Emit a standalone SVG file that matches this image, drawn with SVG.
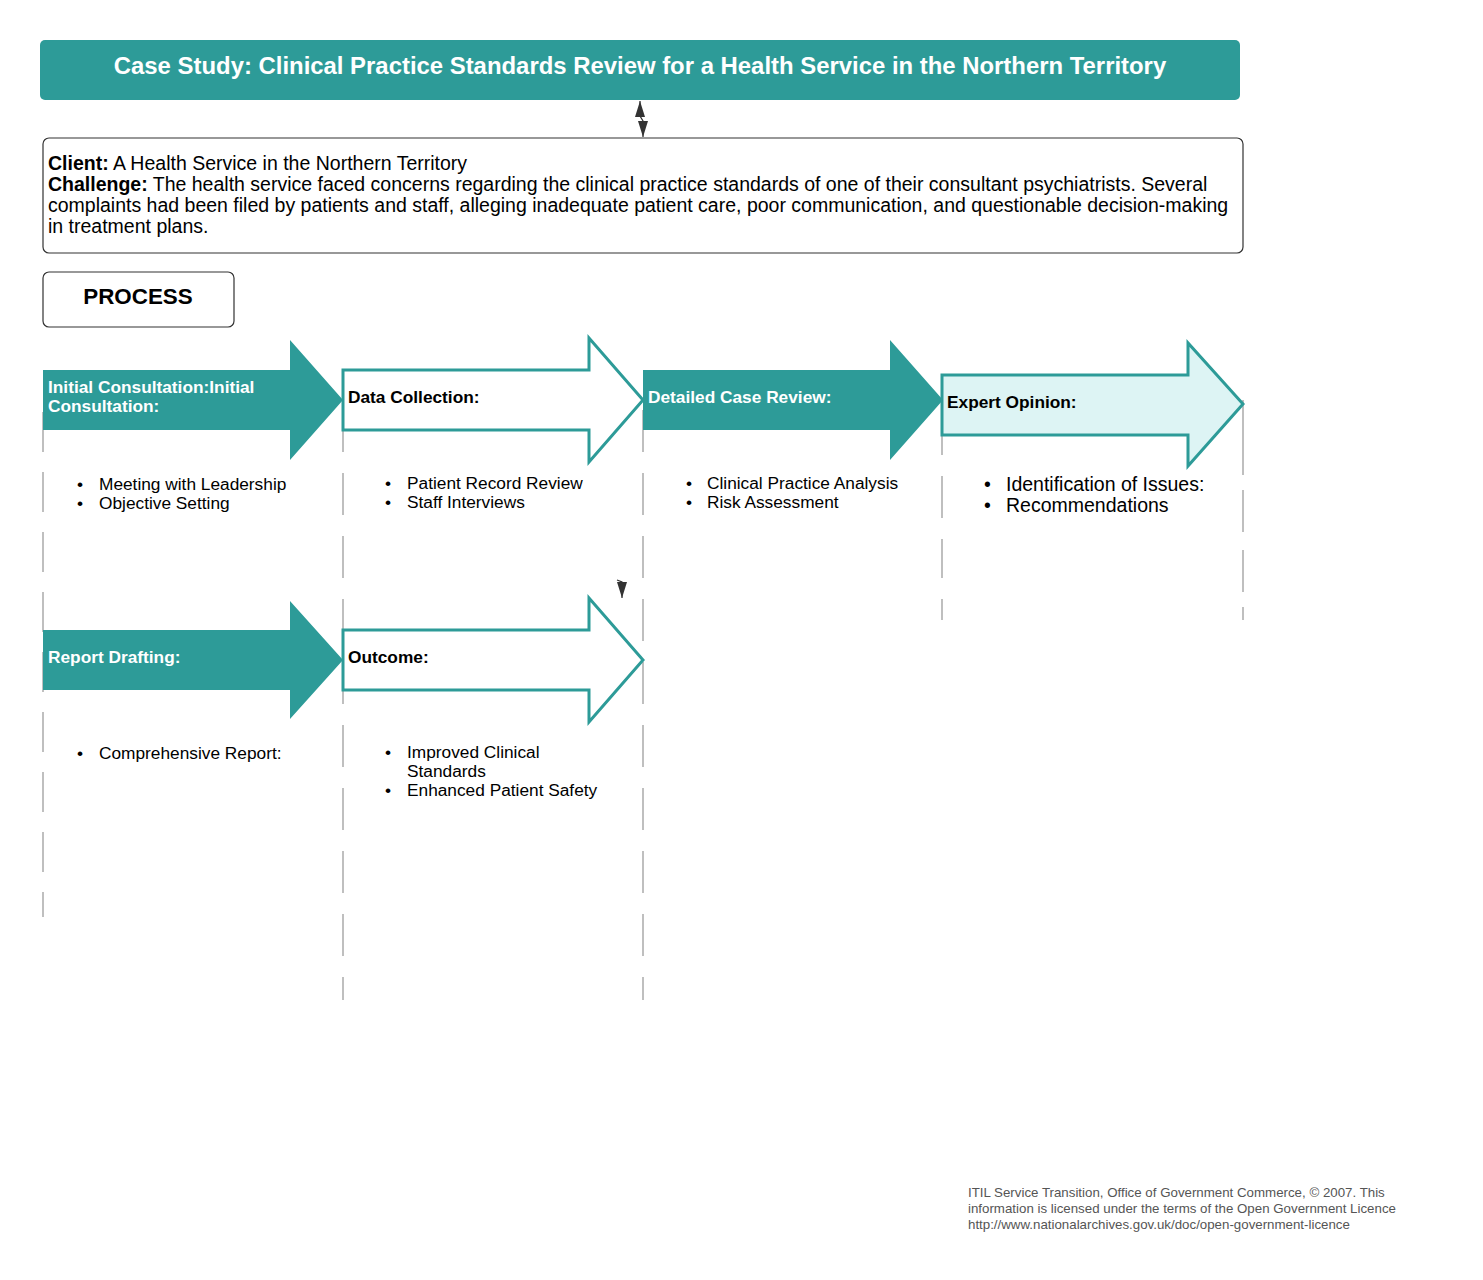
<svg xmlns="http://www.w3.org/2000/svg" width="1483" height="1280" viewBox="0 0 1483 1280">
<defs>
<style>
.t{font-family:"Liberation Sans",Arial,sans-serif}
.b{font-weight:bold}
.lbl{font-family:"Liberation Sans",Arial,sans-serif;font-weight:bold;font-size:17.3px}
.w{fill:#ffffff}
.k{fill:#000000}
.fill{fill:#2d9b98;stroke:none}
.out{fill:#ffffff;stroke:#2d9b98;stroke-width:3}
.lt{fill:#ddf4f4;stroke:#2d9b98;stroke-width:3}
.dash{stroke:#ababab;stroke-width:1.5;fill:none}
.bul{font-family:"Liberation Sans",Arial,sans-serif;font-size:17.3px;fill:#000}
.conn{stroke:#333;stroke-width:1.2;fill:none}
</style>
<marker id="ah" markerWidth="16" markerHeight="10" refX="16" refY="5" orient="auto-start-reverse" markerUnits="userSpaceOnUse" viewBox="0 0 16 10">
<path d="M16,5 L0,0 L0,10 Z" fill="#333"/>
</marker>
</defs>
<rect width="1483" height="1280" fill="#ffffff"/>

<g id="lanes">
<line class="dash" x1="43" y1="412" x2="43" y2="917" stroke-dasharray="40 20"/>
<line class="dash" x1="343" y1="410" x2="343" y2="1000" stroke-dasharray="42 21"/>
<line class="dash" x1="643" y1="410" x2="643" y2="1000" stroke-dasharray="42 21"/>
<line class="dash" x1="942" y1="416" x2="942" y2="620" stroke-dasharray="39 21 42 21"/>
<line class="dash" x1="1243" y1="400" x2="1243" y2="620" stroke-dasharray="75 15 42 18 42 15"/>
</g>

<g id="connectors">
<path class="conn" d="M640,101 L640,116 L643,121 L643,137" marker-start="url(#ah)" marker-end="url(#ah)"/>
<path class="conn" d="M617,580 L622,582 L622,598" marker-end="url(#ah)"/>
</g>

<g id="title">
<rect x="40" y="40" width="1200" height="60" rx="5" fill="#2d9b98"/>
<text class="t b w" x="640" y="74" font-size="23.9" text-anchor="middle">Case Study: Clinical Practice Standards Review for a Health Service in the Northern Territory</text>
</g>

<g id="description">
<rect x="43" y="138" width="1200" height="115" rx="6" fill="#fff" stroke="#333" stroke-width="1.2"/>
<text class="t" font-size="19.5" fill="#000">
<tspan x="48" y="170"><tspan font-weight="bold">Client:</tspan> A Health Service in the Northern Territory</tspan>
<tspan x="48" y="191"><tspan font-weight="bold">Challenge:</tspan> The health service faced concerns regarding the clinical practice standards of one of their consultant psychiatrists. Several</tspan>
<tspan x="48" y="212">complaints had been filed by patients and staff, alleging inadequate patient care, poor communication, and questionable decision-making</tspan>
<tspan x="48" y="233">in treatment plans.</tspan>
</text>
</g>

<g id="process">
<rect x="43" y="272" width="191" height="55" rx="6" fill="#fff" stroke="#333" stroke-width="1.2"/>
<text class="t b" x="138" y="304" font-size="22.4" text-anchor="middle" fill="#000">PROCESS</text>
</g>

<g id="step1">
<path class="fill" d="M43,370 H290 V340 L343,400 L290,460 V430 H43 Z"/>
<text class="lbl w"><tspan x="48" y="393">Initial Consultation:Initial</tspan><tspan x="48" y="412">Consultation:</tspan></text>
<text class="bul"><tspan x="77" y="490">•</tspan><tspan x="99" y="490">Meeting with Leadership</tspan><tspan x="77" y="509">•</tspan><tspan x="99" y="509">Objective Setting</tspan></text>
</g>

<g id="step2">
<path class="out" d="M343,370 H589 V338 L643,400 L589,462 V430 H343 Z"/>
<text class="lbl k" x="348" y="403">Data Collection:</text>
<text class="bul"><tspan x="385" y="489">•</tspan><tspan x="407" y="489">Patient Record Review</tspan><tspan x="385" y="508">•</tspan><tspan x="407" y="508">Staff Interviews</tspan></text>
</g>

<g id="step3">
<path class="fill" d="M643,370 H890 V340 L943,400 L890,460 V430 H643 Z"/>
<text class="lbl w" x="648" y="403">Detailed Case Review:</text>
<text class="bul"><tspan x="686" y="489">•</tspan><tspan x="707" y="489">Clinical Practice Analysis</tspan><tspan x="686" y="508">•</tspan><tspan x="707" y="508">Risk Assessment</tspan></text>
</g>

<g id="step4">
<path class="lt" d="M942,375 H1188 V343 L1243,404 L1188,466 V435 H942 Z"/>
<text class="lbl k" x="947" y="408">Expert Opinion:</text>
<text class="t" font-size="19.5" fill="#000"><tspan x="984" y="491">•</tspan><tspan x="1006" y="491">Identification of Issues:</tspan><tspan x="984" y="512">•</tspan><tspan x="1006" y="512">Recommendations</tspan></text>
</g>

<g id="step5">
<path class="fill" d="M43,630 H290 V601 L343,660 L290,719 V690 H43 Z"/>
<text class="lbl w" x="48" y="663">Report Drafting:</text>
<text class="bul"><tspan x="77" y="759">•</tspan><tspan x="99" y="759">Comprehensive Report:</tspan></text>
</g>

<g id="step6">
<path class="out" d="M343,630 H589 V598 L643,660 L589,722 V690 H343 Z"/>
<text class="lbl k" x="348" y="663">Outcome:</text>
<text class="bul"><tspan x="385" y="758">•</tspan><tspan x="407" y="758">Improved Clinical</tspan><tspan x="407" y="777">Standards</tspan><tspan x="385" y="796">•</tspan><tspan x="407" y="796">Enhanced Patient Safety</tspan></text>
</g>

<g id="footer">
<text class="t" font-size="13.3" fill="#555"><tspan x="968" y="1197">ITIL Service Transition, Office of Government Commerce, © 2007. This</tspan><tspan x="968" y="1213">information is licensed under the terms of the Open Government Licence</tspan><tspan x="968" y="1229">http://www.nationalarchives.gov.uk/doc/open-government-licence</tspan></text>
</g>
</svg>
